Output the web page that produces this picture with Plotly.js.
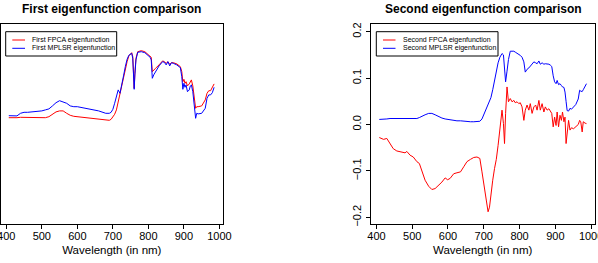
<!DOCTYPE html>
<html><head><meta charset="utf-8">
<script src="https://cdn.plot.ly/plotly-3.0.1.min.js"></script>
<style>html,body{margin:0;padding:0;background:#fff;}#chart{width:598px;height:263px;}</style>
</head><body><div id="chart"></div>
<script>
// ---- First eigenfunction (left panel) ----
const wl1 = [407,420,430,440,450,460,480,500,510,520,530,540,550,560,570,580,590,600,620,640,660,680,690,695,700,705,710,715,720,725,730,735,740,745,750,753,756,758,760,762,765,770,775,780,790,800,805,808,811,815,820,830,840,845,850,855,860,865,870,880,890,894,897,900,903,906,910,915,918,921,925,930,933,936,940,950,960,965,970,975,980,985];
const firstFPCA = [0.0533,0.0532,0.0533,0.0535,0.0535,0.0535,0.0533,0.0532,0.0533,0.0538,0.0550,0.0562,0.0567,0.0567,0.0555,0.0545,0.0540,0.0538,0.0535,0.0528,0.0525,0.0520,0.0520,0.0525,0.0535,0.0550,0.0572,0.0613,0.0638,0.0680,0.0730,0.0772,0.0813,0.0842,0.0852,0.0858,0.0838,0.0772,0.0680,0.0755,0.0830,0.0863,0.0867,0.0868,0.0863,0.0847,0.0842,0.0835,0.0763,0.0772,0.0780,0.0797,0.0817,0.0813,0.0805,0.0813,0.0800,0.0808,0.0808,0.0802,0.0788,0.0763,0.0713,0.0725,0.0705,0.0713,0.0692,0.0702,0.0713,0.0722,0.0692,0.0613,0.0580,0.0588,0.0588,0.0592,0.0622,0.0655,0.0668,0.0668,0.0685,0.0702];
const firstMPLSR = [0.0543,0.0543,0.0542,0.0555,0.0560,0.0560,0.0563,0.0567,0.0572,0.0577,0.0592,0.0608,0.0618,0.0613,0.0605,0.0592,0.0588,0.0588,0.0580,0.0575,0.0567,0.0555,0.0555,0.0560,0.0575,0.0605,0.0647,0.0672,0.0655,0.0692,0.0742,0.0788,0.0825,0.0845,0.0852,0.0855,0.0830,0.0763,0.0675,0.0747,0.0822,0.0860,0.0863,0.0863,0.0858,0.0842,0.0835,0.0822,0.0730,0.0747,0.0763,0.0792,0.0813,0.0810,0.0797,0.0813,0.0792,0.0808,0.0805,0.0797,0.0783,0.0738,0.0675,0.0705,0.0685,0.0697,0.0663,0.0672,0.0692,0.0697,0.0663,0.0572,0.0530,0.0555,0.0552,0.0555,0.0580,0.0630,0.0647,0.0647,0.0658,0.0685];

// ---- Second eigenfunction (right panel) ----
const wl2 = [408,415,420,429,438,447,457,471,480,485,494,503,513,520,527,536,546,555,564,574,583,592,599,606,616,625,635,644,653,663,672,681,689,695,702,708,712,716,720,725,730,735,740,745,748,751,755,758,761,765,769,774,779,784,788,793,798,802,807,812,816,821,826,830,835,840,845,849,854,858,863,868,872,877,882,886,890,894,898,902,905,909,913,917,920,924,927,930,933,937,941,945,951,957,964,968,971,975,978,983,987];
const secondFPCA = [-0.028,-0.031,-0.032,-0.030,-0.041,-0.052,-0.057,-0.059,-0.061,-0.058,-0.066,-0.070,-0.080,-0.084,-0.102,-0.120,-0.133,-0.140,-0.138,-0.131,-0.124,-0.115,-0.119,-0.116,-0.106,-0.104,-0.102,-0.091,-0.080,-0.075,-0.071,-0.070,-0.073,-0.102,-0.142,-0.170,-0.188,-0.178,-0.150,-0.120,-0.095,-0.075,-0.045,-0.010,0.009,0.031,0.002,-0.041,0.024,0.081,0.049,0.056,0.049,0.052,0.047,0.049,0.045,0.047,0.038,0.009,0.031,0.042,0.031,0.045,0.024,0.038,0.042,0.031,0.052,0.031,0.045,0.027,0.038,0.031,0.034,0.027,0.024,-0.005,0.016,-0.002,0.027,-0.005,0.020,0.009,0.027,0.006,0.016,-0.041,-0.012,0.009,-0.012,-0.007,-0.009,-0.004,0.000,0.009,0.006,-0.016,0.006,0.003,0.002];
const secondMPLSR = [0.011,0.011,0.012,0.012,0.013,0.013,0.013,0.012,0.012,0.012,0.012,0.012,0.013,0.015,0.018,0.021,0.024,0.024,0.021,0.017,0.014,0.012,0.011,0.010,0.009,0.008,0.008,0.007,0.007,0.006,0.006,0.006,0.007,0.012,0.024,0.036,0.042,0.050,0.058,0.075,0.097,0.115,0.133,0.145,0.150,0.153,0.150,0.128,0.092,0.115,0.140,0.158,0.158,0.158,0.156,0.154,0.152,0.149,0.145,0.135,0.113,0.119,0.122,0.126,0.130,0.135,0.133,0.131,0.137,0.130,0.133,0.130,0.131,0.131,0.130,0.128,0.125,0.105,0.092,0.088,0.095,0.086,0.088,0.084,0.081,0.080,0.070,0.050,0.030,0.029,0.035,0.033,0.037,0.043,0.055,0.074,0.072,0.071,0.075,0.082,0.088];

// ---- Text ----
const titles = ["First eigenfunction comparison", "Second eigenfunction comparison"];
const xTitle = "Wavelength (in nm)";
const xTickVals = [400,500,600,700,800,900,1000];
const xTickText = ["400","500","600","700","800","900","1000"];
const yTickVals2 = [-0.2,-0.1,0.0,0.1,0.2];
const yTickText2 = ["\u22120.2","\u22120.1","0.0","0.1","0.2"];
const legend1 = ["First FPCA eigenfunction", "First MPLSR eigenfunction"];
const legend2 = ["Second FPCA eigenfunction", "Second MPLSR eigenfunction"];
const RED = "#ff0000", BLUE = "#0000ff";

const W = 598, H = 263;
const px = v => v / W;
const py = v => 1 - v / H;

const traces = [
  {x: wl1, y: firstFPCA, xaxis: "x", yaxis: "y", type: "scatter", mode: "lines", name: legend1[0], line: {color: RED, width: 1}},
  {x: wl1, y: firstMPLSR, xaxis: "x", yaxis: "y", type: "scatter", mode: "lines", name: legend1[1], line: {color: BLUE, width: 1}},
  {x: wl2, y: secondFPCA, xaxis: "x2", yaxis: "y2", type: "scatter", mode: "lines", name: legend2[0], line: {color: RED, width: 1}},
  {x: wl2, y: secondMPLSR, xaxis: "x2", yaxis: "y2", type: "scatter", mode: "lines", name: legend2[1], line: {color: BLUE, width: 1}}
];

const fontFam = "Liberation Sans, Arial, Helvetica, sans-serif";
const xCommon = {
  range: [384, 1010], tickvals: xTickVals, ticktext: xTickText, ticks: "outside", ticklen: 4, tickwidth: 1, tickcolor: "#000",
  showline: true, mirror: true, linecolor: "#000", linewidth: 1, showgrid: false, zeroline: false,
  ticklabeloverflow: "allow", ticklabelstandoff: -3,
  tickfont: {family: fontFam, size: 11, color: "#000"},
  title: {text: xTitle, font: {family: fontFam, size: 11.5, color: "#000"}, standoff: 5}
};

const ybox = [(H - 224.3) / H, (H - 24.3) / H];

function legendShapes(x0, x1, lx0, lx1, y1, y2) {
  return [
    {type: "rect", xref: "paper", yref: "paper", x0: px(x0), x1: px(x1), y0: py(56), y1: py(31.7), line: {color: "#000", width: 1}, fillcolor: "rgba(255,255,255,0)"},
    {type: "line", xref: "paper", yref: "paper", x0: px(lx0), x1: px(lx1), y0: py(y1), y1: py(y1), line: {color: RED, width: 1}},
    {type: "line", xref: "paper", yref: "paper", x0: px(lx0), x1: px(lx1), y0: py(y2), y1: py(y2), line: {color: BLUE, width: 1}}
  ];
}
function legendTexts(tx, labels, y1, y2) {
  return [
    {xref: "paper", yref: "paper", x: px(tx), y: py(y1), xanchor: "left", yanchor: "middle", showarrow: false, text: labels[0], font: {family: fontFam, size: 7, color: "#000"}},
    {xref: "paper", yref: "paper", x: px(tx), y: py(y2), xanchor: "left", yanchor: "middle", showarrow: false, text: labels[1], font: {family: fontFam, size: 7, color: "#000"}}
  ];
}

const layout = {
  width: W, height: H, margin: {l: 0, r: 0, t: 0, b: 0}, showlegend: false,
  paper_bgcolor: "#fff", plot_bgcolor: "#fff",
  xaxis: Object.assign({}, xCommon, {domain: [px(0.6), px(223)], anchor: "y"}),
  yaxis: {domain: ybox, range: [0, 0.1], anchor: "x", showticklabels: false, ticks: "", showline: true, mirror: true, linecolor: "#000", linewidth: 1, showgrid: false, zeroline: false},
  xaxis2: Object.assign({}, xCommon, {domain: [px(370.7), px(594.7)], anchor: "y2"}),
  yaxis2: {domain: ybox, range: [-0.215, 0.216], anchor: "x2", tickvals: yTickVals2, ticktext: yTickText2, tickangle: -90,
    ticks: "outside", ticklen: 4, tickwidth: 1, tickcolor: "#000", showline: true, mirror: true, linecolor: "#000", linewidth: 1,
    showgrid: false, zeroline: false, ticklabeloverflow: "allow", tickfont: {family: fontFam, size: 11, color: "#000"}},
  shapes: [].concat(legendShapes(5.7, 116.7, 12.3, 25, 40, 48.3), legendShapes(376.3, 498, 383, 395.5, 40, 48.3)),
  annotations: [
    {xref: "paper", yref: "paper", x: px(112), y: py(9), xanchor: "center", yanchor: "middle", showarrow: false, text: "<b>" + titles[0] + "</b>", font: {family: fontFam, size: 12, color: "#000"}},
    {xref: "paper", yref: "paper", x: px(483), y: py(9), xanchor: "center", yanchor: "middle", showarrow: false, text: "<b>" + titles[1] + "</b>", font: {family: fontFam, size: 12, color: "#000"}}
  ].concat(legendTexts(30, legend1, 40, 48.3), legendTexts(401.3, legend2, 40, 48.3))
};

Plotly.newPlot("chart", traces, layout, {displayModeBar: false, staticPlot: true});
</script></body></html>
